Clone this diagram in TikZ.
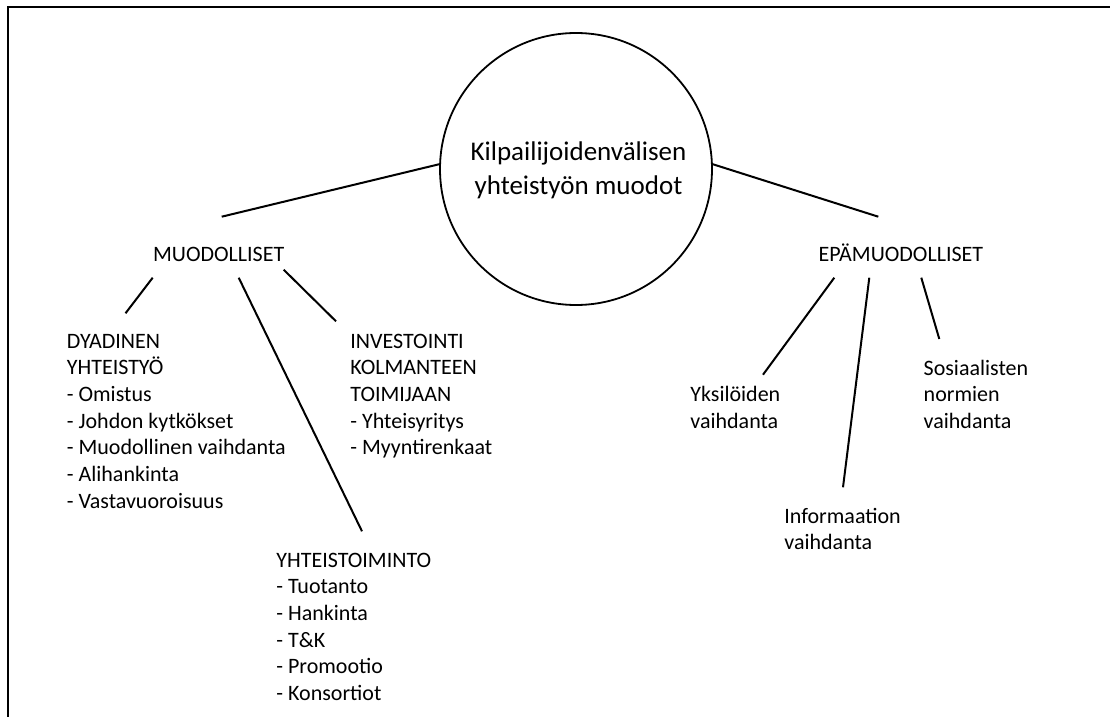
\documentclass[tikz,border=0pt]{standalone}
\usepackage{fontspec}
\setmainfont{Carlito}
\newcommand{\blk}[1]{\begin{tabular}[t]{@{}l@{}}#1\end{tabular}}
\newcommand{\cblk}[1]{\begin{tabular}[t]{@{}c@{}}#1\end{tabular}}
\begin{document}
\begin{tikzpicture}[x=0.5pt,y=-0.5pt,
  lbl/.style={inner sep=0pt, anchor=base west, font=\fontsize{11}{13.33}\selectfont},
  conn/.style={line width=1pt},
  frame/.style={line width=1pt}
]
\useasboundingbox (0,0) rectangle (1110,717);
\draw[frame] (8.3,717) -- (8.3,7) -- (1110,7);

\node[draw, circle, line width=0.9pt, minimum size=136pt, inner sep=0pt] (c) at (576,169) {};
\node[inner sep=0pt, anchor=base, font=\fontsize{13.5}{17}\selectfont] (ct) at (578.5,160.7)
  {\cblk{Kilpailijoidenvälisen\\yhteistyön muodot}};

\node[lbl] (muod) at (152.7,261.7) {MUODOLLISET};
\node[lbl] (epam) at (818.3,261.7) {EPÄMUODOLLISET};

\node[lbl] (dyad) at (66.5,348.3) {\blk{DYADINEN\\YHTEISTYÖ\\- Omistus\\- Johdon kytkökset\\- Muodollinen vaihdanta\\- Alihankinta\\- Vastavuoroisuus}};
\node[lbl] (inv) at (350,348.3) {\blk{INVESTOINTI\\KOLMANTEEN\\TOIMIJAAN\\- Yhteisyritys\\- Myyntirenkaat}};
\node[lbl] (yht) at (276,567.3) {\blk{YHTEISTOIMINTO\\- Tuotanto\\- Hankinta\\- T\&K\\- Promootio\\- Konsortiot}};

\node[lbl] (yks) at (690,401.7) {\blk{Yksilöiden\\vaihdanta}};
\node[lbl] (sos) at (923.3,375) {\blk{Sosiaalisten\\normien\\vaihdanta}};
\node[lbl] (inf) at (784,523.3) {\blk{Informaation\\vaihdanta}};

\draw[conn] (c.178) -- ([shift={(69,-45)}]muod.base west);
\draw[conn] (c.2) -- ([shift={(60,-45)}]epam.base west);

\draw[conn] ([shift={(0,16)}]muod.base west) -- ([shift={(59,-35)}]dyad.base west);
\draw[conn] ([shift={(86,16)}]muod.base west) -- ([shift={(86,-36)}]yht.base west);
\draw[conn] ([shift={(131,8)}]muod.base west) -- ([shift={(-14,-27)}]inv.base west);

\draw[conn] ([shift={(16,16)}]epam.base west) -- ([shift={(73,-27)}]yks.base west);
\draw[conn] ([shift={(51,16)}]epam.base west) -- ([shift={(59,-36)}]inf.base west);
\draw[conn] ([shift={(103,16)}]epam.base west) -- ([shift={(16,-36)}]sos.base west);
\end{tikzpicture}
\end{document}
